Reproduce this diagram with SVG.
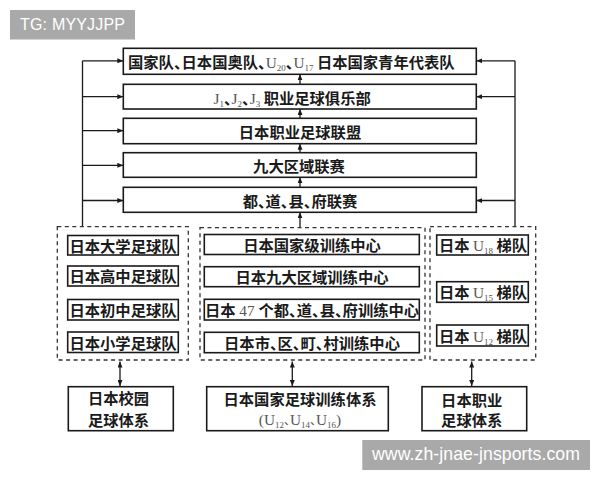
<svg xmlns="http://www.w3.org/2000/svg" width="600" height="480" viewBox="0 0 600 480">
<defs>
<style>
.box{fill:#fff;stroke:#1a1a1a;stroke-width:1.6}
.dash{fill:none;stroke:#333;stroke-width:1.3;stroke-dasharray:4 3.5}
.ln{fill:none;stroke:#1a1a1a;stroke-width:1.3}
.cj{font-family:"Noto Sans CJK SC","Noto Sans",sans-serif;font-size:15.3px;font-weight:bold;fill:#1a1a1a;font-feature-settings:"halt"}
.lat{font-family:"Liberation Serif",serif;font-weight:normal;fill:#555}
.sub{font-size:9px}
.cm{font-size:12px;font-weight:normal;fill:#555}
.wm{font-family:"Liberation Sans",Arial,sans-serif;fill:#fff}
.mid{text-anchor:middle}
</style>
<marker id="ah" markerUnits="userSpaceOnUse" markerWidth="6" markerHeight="5" refX="6" refY="2.5" orient="auto-start-reverse">
<path d="M0,0 L6,2.5 L0,5 z" fill="#1a1a1a"/>
</marker>
</defs>
<rect width="600" height="480" fill="#fff"/>

<g id="connectors">
<line class="ln" x1="82.5" y1="60.8" x2="82.5" y2="227"/>
<line class="ln" x1="82.5" y1="60.8" x2="123.3" y2="60.8" marker-end="url(#ah)"/>
<line class="ln" x1="82.5" y1="96.7" x2="123.3" y2="96.7" marker-end="url(#ah)"/>
<line class="ln" x1="82.5" y1="130.7" x2="123.3" y2="130.7" marker-end="url(#ah)"/>
<line class="ln" x1="82.5" y1="165.3" x2="123.3" y2="165.3" marker-end="url(#ah)"/>
<line class="ln" x1="82.5" y1="200.5" x2="123.3" y2="200.5" marker-end="url(#ah)"/>
<line class="ln" x1="515" y1="60.8" x2="515" y2="227"/>
<line class="ln" x1="515" y1="60.8" x2="476.3" y2="60.8" marker-end="url(#ah)"/>
<line class="ln" x1="515" y1="96.7" x2="476.3" y2="96.7" marker-end="url(#ah)"/>
<line class="ln" x1="515" y1="200.5" x2="476.3" y2="200.5" marker-end="url(#ah)"/>
<line class="ln" x1="300" y1="84.3" x2="300" y2="74.3" marker-end="url(#ah)"/>
<line class="ln" x1="300" y1="118.3" x2="300" y2="109" marker-end="url(#ah)"/>
<line class="ln" x1="300" y1="152.7" x2="300" y2="143.7" marker-end="url(#ah)"/>
<line class="ln" x1="300" y1="187.3" x2="300" y2="177.3" marker-end="url(#ah)"/>
<line class="ln" x1="300" y1="227.7" x2="300" y2="212.3" marker-end="url(#ah)"/>
<line class="ln" x1="120" y1="361.5" x2="120" y2="386" marker-start="url(#ah)" marker-end="url(#ah)"/>
<line class="ln" x1="292.3" y1="361.5" x2="292.3" y2="386" marker-start="url(#ah)" marker-end="url(#ah)"/>
<line class="ln" x1="471.7" y1="361.5" x2="471.7" y2="386" marker-start="url(#ah)" marker-end="url(#ah)"/>
</g>

<g id="n-national">
<rect class="box" x="123.3" y="48.3" width="353" height="26"/>
<text class="cj" x="128" y="68.3">国家队、日本国奥队、<tspan class="lat">U</tspan><tspan class="lat sub" dy="3">20</tspan><tspan dy="-3">、</tspan><tspan class="lat">U</tspan><tspan class="lat sub" dy="3">17</tspan><tspan dy="-3"> 日本国家青年代表队</tspan></text>
</g>
<g id="n-jleague">
<rect class="box" x="123.3" y="84.3" width="353" height="24.7"/>
<text class="cj" x="213.5" y="103.7"><tspan class="lat">J</tspan><tspan class="lat sub" dy="3">1</tspan><tspan dy="-3">、</tspan><tspan class="lat">J</tspan><tspan class="lat sub" dy="3">2</tspan><tspan dy="-3">、</tspan><tspan class="lat">J</tspan><tspan class="lat sub" dy="3">3</tspan><tspan dy="-3"> 职业足球俱乐部</tspan></text>
</g>
<g id="n-league">
<rect class="box" x="123.3" y="118.3" width="353" height="25.4"/>
<text class="cj mid" x="300" y="138">日本职业足球联盟</text>
</g>
<g id="n-regional">
<rect class="box" x="123.3" y="152.7" width="353" height="24.6"/>
<text class="cj mid" x="299" y="172">九大区域联赛</text>
</g>
<g id="n-prefecture">
<rect class="box" x="123.3" y="187.3" width="353" height="25"/>
<text class="cj mid" x="300" y="206.8">都、道、县、府联赛</text>
</g>

<g id="g-school">
<rect class="dash" x="57.3" y="226.7" width="131" height="133.3"/>
<rect class="box" x="67.7" y="235.5" width="110.6" height="19.5"/>
<text class="cj mid" x="123" y="251.5">日本大学足球队</text>
<rect class="box" x="67.7" y="266" width="110.6" height="20"/>
<text class="cj mid" x="123" y="282.2">日本高中足球队</text>
<rect class="box" x="67.7" y="299.5" width="110.6" height="20.5"/>
<text class="cj mid" x="123" y="316">日本初中足球队</text>
<rect class="box" x="67.7" y="332" width="110.6" height="20.5"/>
<text class="cj mid" x="123" y="348.5">日本小学足球队</text>
</g>

<g id="g-training">
<rect class="dash" x="200" y="227.7" width="225" height="132.3"/>
<rect class="box" x="204.3" y="234.5" width="215" height="20"/>
<text class="cj mid" x="312" y="250.7">日本国家级训练中心</text>
<rect class="box" x="204.3" y="266.7" width="215" height="20"/>
<text class="cj mid" x="312" y="282.9">日本九大区域训练中心</text>
<rect class="box" x="204.3" y="299.3" width="215" height="20.7"/>
<text class="cj mid" x="312" y="316">日本<tspan class="lat"> 47 </tspan>个都、道、县、府训练中心</text>
<rect class="box" x="204.3" y="332.3" width="215" height="20.4"/>
<text class="cj mid" x="312" y="348.7">日本市、区、町、村训练中心</text>
</g>

<g id="g-youth">
<rect class="dash" x="430" y="226.7" width="105.7" height="133.3"/>
<rect class="box" x="436.7" y="235" width="91.6" height="20"/>
<text class="cj mid" x="483" y="251.2">日本 <tspan class="lat">U</tspan><tspan class="lat sub" dy="3">18</tspan><tspan dy="-3"> 梯队</tspan></text>
<rect class="box" x="436.7" y="281.7" width="91.6" height="20.6"/>
<text class="cj mid" x="483" y="298.2">日本 <tspan class="lat">U</tspan><tspan class="lat sub" dy="3">15</tspan><tspan dy="-3"> 梯队</tspan></text>
<rect class="box" x="436.7" y="325" width="91.6" height="21"/>
<text class="cj mid" x="483" y="341.7">日本 <tspan class="lat">U</tspan><tspan class="lat sub" dy="3">12</tspan><tspan dy="-3"> 梯队</tspan></text>
</g>

<g id="n-school-system">
<rect class="box" x="68.3" y="386.7" width="105" height="44"/>
<text class="cj mid" x="118.5" y="404">日本校园</text>
<text class="cj mid" x="118.5" y="426">足球体系</text>
</g>
<g id="n-training-system">
<rect class="box" x="206.7" y="386.7" width="181.6" height="44"/>
<text class="cj mid" x="300" y="405">日本国家足球训练体系</text>
<text class="cj mid" x="300" y="424.5"><tspan class="lat">(U</tspan><tspan class="lat sub" dy="3">12</tspan><tspan class="cm" dy="-3">、</tspan><tspan class="lat">U</tspan><tspan class="lat sub" dy="3">14</tspan><tspan class="cm" dy="-3">、</tspan><tspan class="lat">U</tspan><tspan class="lat sub" dy="3">16</tspan><tspan class="lat" dy="-3">)</tspan></text>
</g>
<g id="n-pro-system">
<rect class="box" x="422" y="386.7" width="104.7" height="44"/>
<text class="cj mid" x="471.7" y="405.5">日本职业</text>
<text class="cj mid" x="471.7" y="425.5">足球体系</text>
</g>

<g id="watermarks">
<rect x="10" y="10" width="125" height="29.5" fill="#a9a9a9"/>
<text class="wm" x="20" y="30" font-size="16" textLength="105">TG: MYYJJPP</text>
<rect x="362.3" y="440" width="227.7" height="30" fill="#a9a9a9"/>
<text class="wm" x="372" y="460" font-size="17.7" textLength="208">www.zh-jnae-jnsports.com</text>
</g>
</svg>
